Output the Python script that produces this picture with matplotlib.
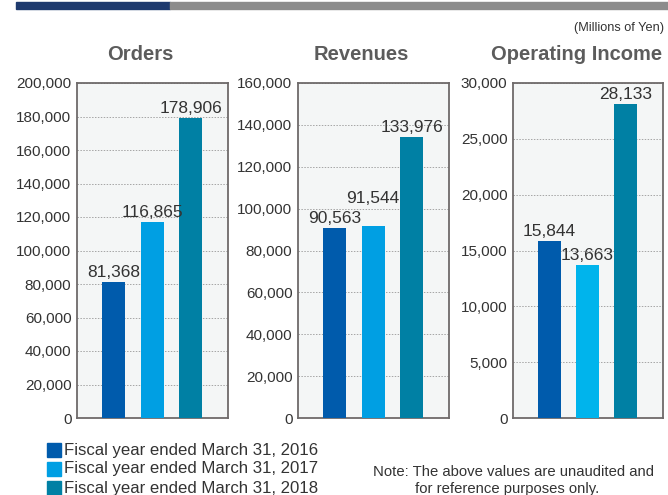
import matplotlib
matplotlib.use("Agg")
import matplotlib.pyplot as plt
from matplotlib.patches import Rectangle
from matplotlib.ticker import FuncFormatter, MultipleLocator

plt.rcParams['font.family'] = ['Liberation Sans', 'DejaVu Sans']

# ---- data ----
series_labels = ["Fiscal year ended March 31, 2016",
                 "Fiscal year ended March 31, 2017",
                 "Fiscal year ended March 31, 2018"]
panel_titles = ["Orders", "Revenues", "Operating Income"]
orders = [81368, 116865, 178906]
revenues = [90563, 91544, 133976]
operating_income = [15844, 13663, 28133]
y_max = [200000, 160000, 30000]
y_step = [20000, 20000, 5000]

# ---- styles ----
colors = [["#005BAC", "#009FE3", "#0080A4"],
          ["#005BAC", "#009FE3", "#0080A4"],
          ["#005BAC", "#00B4EC", "#0080A4"]]
label_offsets = [[2, 2, 2], [2, 20, 2], [2, 2, 2]]  # pixels above bar top
text_color = "#333333"
title_color = "#5c5c5c"
spine_color = "#6e6a6a"

W, H = 668, 495
fig = plt.figure(figsize=(W / 100, H / 100), dpi=100)

# top decorative bar
fig.patches.append(Rectangle((16 / W, 1 - 9 / H), (170 - 16) / W, 7 / H,
                             transform=fig.transFigure, color="#1e3a6e", zorder=5))
fig.patches.append(Rectangle((170 / W, 1 - 9 / H), (668 - 170) / W, 7 / H,
                             transform=fig.transFigure, color="#8c8c8c", zorder=5))

fig.text(664 / W, 1 - 28 / H, "(Millions of Yen)", ha="right", va="center",
         fontsize=9.2, color=text_color)

axes_left = [77, 298, 513]
axes_w = [151, 151, 150]
title_x = [140, 361, 577]
data_sets = [orders, revenues, operating_income]
bottom_px, top_px = 418, 83

for i, vals in enumerate(data_sets):
    ax = fig.add_axes([axes_left[i] / W, (H - bottom_px) / H,
                       axes_w[i] / W, (bottom_px - top_px) / H])
    ax.set_facecolor("#F4F6F6")
    x = list(range(len(vals)))
    ax.bar(x, vals, width=0.6, color=colors[i], zorder=3)
    ax.set_xlim(-0.95, 2.97)
    ax.set_ylim(0, y_max[i])
    ax.yaxis.set_major_locator(MultipleLocator(y_step[i]))
    ax.yaxis.set_major_formatter(FuncFormatter(lambda v, p: f"{int(v):,}"))
    ax.set_xticks([])
    ax.tick_params(axis="y", length=0, pad=4, labelsize=11, labelcolor=text_color)
    ax.grid(axis="y", linestyle=(0, (1.5, 1.5)), color="#a5a5a5", linewidth=0.7, zorder=1)
    for s in ax.spines.values():
        s.set_color(spine_color)
        s.set_linewidth(1.3)
    for j, v in enumerate(vals):
        ax.annotate(f"{v:,}", (x[j], v), xytext=(0, label_offsets[i][j]),
                    textcoords="offset pixels", ha="center", va="bottom",
                    fontsize=12.5, color=text_color, zorder=4)
    fig.text(title_x[i] / W, 1 - 54 / H, panel_titles[i], ha="center", va="center",
             fontsize=14.5, fontweight="bold", color=title_color)

# legend
for k, lab in enumerate(series_labels):
    yc = 450 + 19 * k
    fig.patches.append(Rectangle((47 / W, 1 - (yc + 7) / H), 14 / W, 14 / H,
                                 transform=fig.transFigure, color=colors[0][k]))
    fig.text(64 / W, 1 - yc / H, lab, ha="left", va="center", fontsize=12.1,
             color=text_color)

fig.text(373 / W, 1 - 472 / H, "Note: The above values are unaudited and",
         ha="left", va="center", fontsize=10.7, color=text_color)
fig.text(415 / W, 1 - 489 / H, "for reference purposes only.",
         ha="left", va="center", fontsize=10.7, color=text_color)

fig.savefig("out.png", dpi=100)
